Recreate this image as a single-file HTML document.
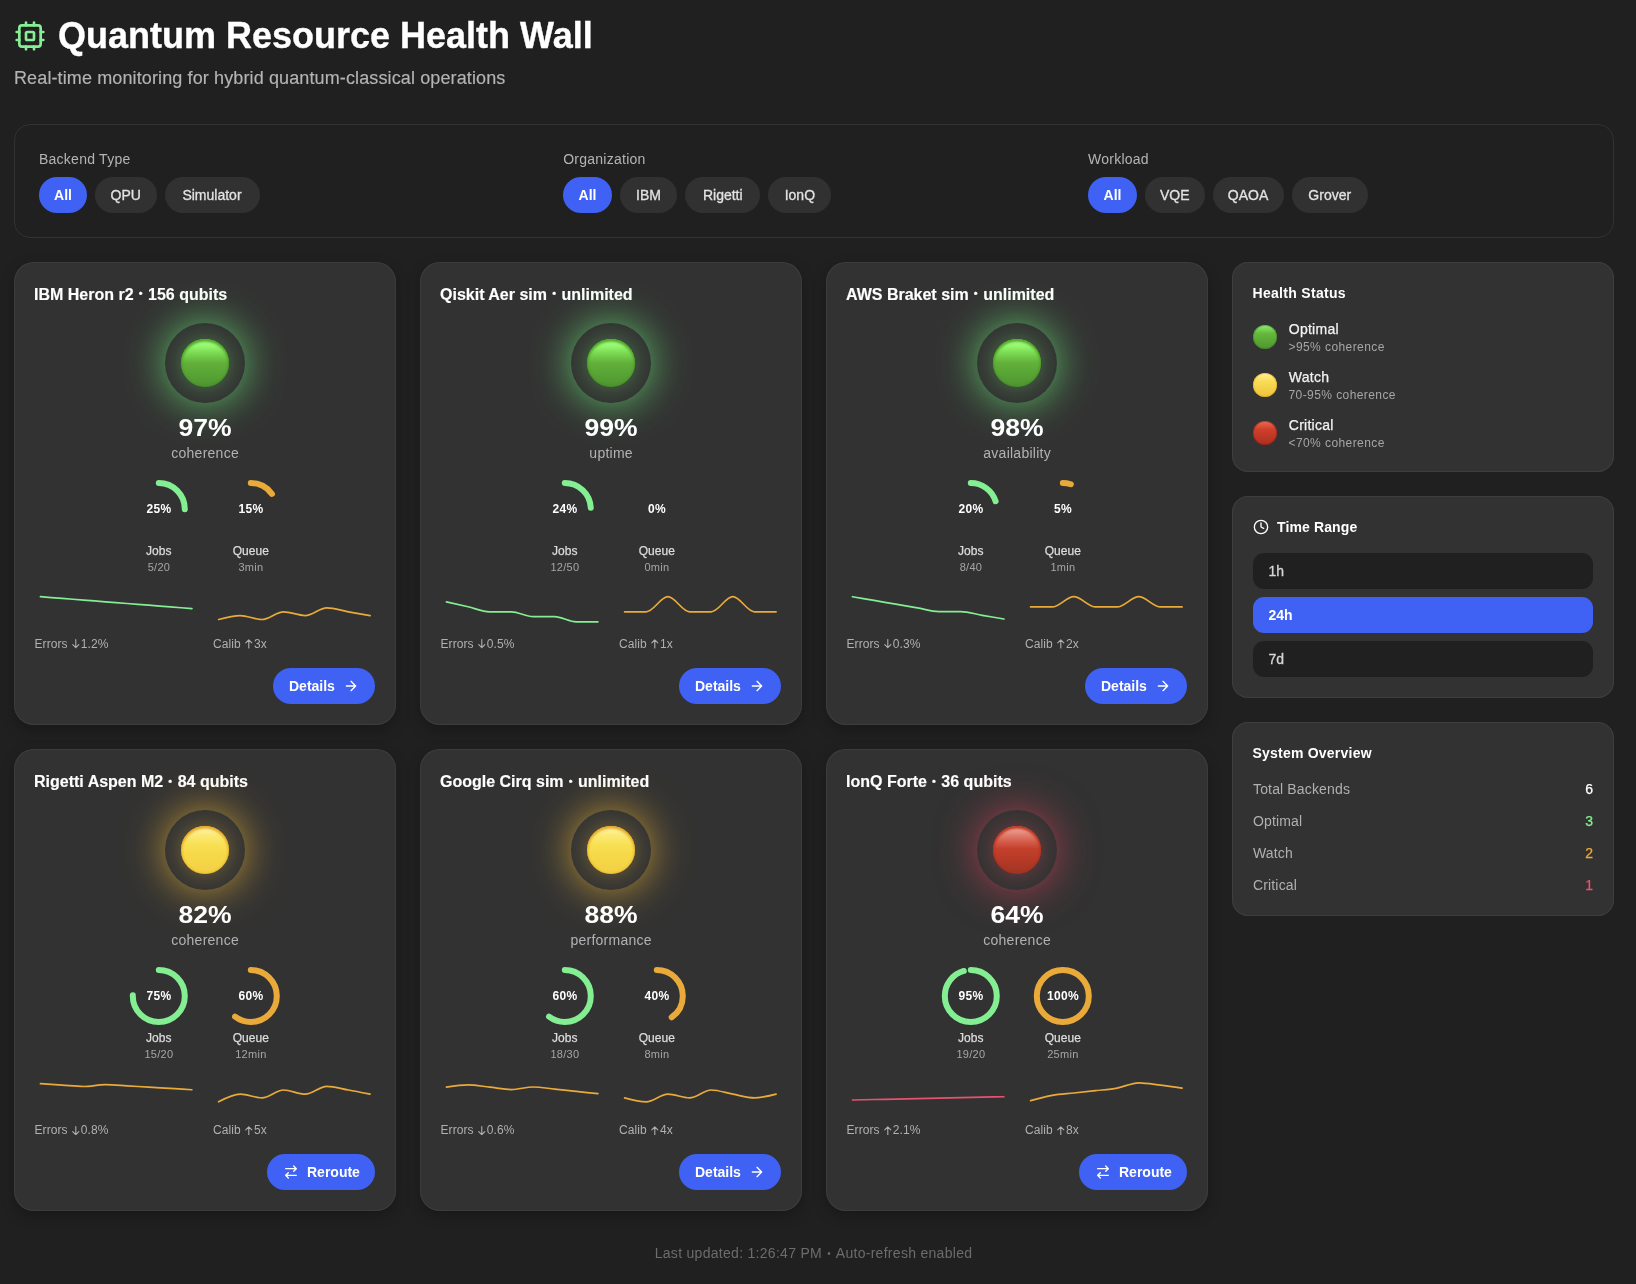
<!DOCTYPE html>
<html lang="en">
<head>
<meta charset="utf-8">
<title>Quantum Resource Health Wall</title>
<style>
*{box-sizing:border-box;margin:0;padding:0}
html,body{width:1636px;height:1284px;overflow:hidden}
h1,.sub,.filters,.card,.side,.foot{will-change:transform}
body{background:#202020;color:#fff;font-family:"Liberation Sans",sans-serif;position:relative}
.hdr-icon{position:absolute;left:14px;top:19.5px;width:32px;height:32px}
h1{position:absolute;left:58px;top:15.8px;font-size:36px;line-height:40px;font-weight:700;white-space:nowrap;-webkit-text-stroke:.35px #fff}
.sub{position:absolute;left:14px;top:66px;font-size:18px;line-height:24px;color:#b4b4b4;white-space:nowrap;letter-spacing:.12px;-webkit-text-stroke:.15px #b4b4b4}
.filters{position:absolute;left:14px;top:124px;width:1600px;height:114px;border:1px solid #323232;border-radius:16px;background:#202020}
.fg{position:absolute;top:24px}
.fg .lbl{font-size:14px;line-height:20px;color:#b4b4b4;margin-bottom:8px;white-space:nowrap;letter-spacing:.25px}
.pills{display:flex;gap:8px}
.pill{height:36px;border-radius:18px;background:#313131;color:#e2e2e2;font-size:14px;line-height:36px;text-align:center;white-space:nowrap;-webkit-text-stroke:.3px #e2e2e2}
.pill.on{background:#3f62f4;color:#fff;font-weight:700;-webkit-text-stroke:0}
.card{position:absolute;width:382px;height:463px;background:#323232;border-radius:20px;box-shadow:inset 0 0 0 1px #3c3c3c,0 5px 14px rgba(0,0,0,.26)}
.card h3{position:absolute;left:20px;top:22.5px;font-size:16px;line-height:20px;font-weight:700;white-space:nowrap;-webkit-text-stroke:.15px #fff}
.bl{display:inline-block;width:5.6px;text-align:center;position:relative}
.bl i{font-style:normal;font-size:11px;position:relative;top:-2.3px;left:-.2px}
.led{position:absolute;left:151px;top:60.7px;width:80px;height:80px;border-radius:50%}
.led i{position:absolute;left:16px;top:16px;width:48px;height:48px;border-radius:50%}
.led-g{background:#333433;box-shadow:0 0 40px rgba(105,215,115,.86)}
.led-g i{background:linear-gradient(180deg,#a6fd8a 5%,#92f66c 16%,#79d850 30%,#62b03a 50%,#4e9530 100%);box-shadow:0 0 22px rgba(110,220,110,.42),inset 0 2.5px 2.5px rgba(80,165,35,.95),inset 0 0 3px rgba(60,135,30,.85)}
.led-y{background:#343433;box-shadow:0 0 40px rgba(240,185,60,.74)}
.led-y i{background:linear-gradient(180deg,#fdf3a6 5%,#fbea78 18%,#f8df52 40%,#f6d949 60%,#f2d044 100%);box-shadow:0 0 22px rgba(240,190,60,.38),inset 0 2.5px 2.5px rgba(232,165,30,.95),inset 0 0 3px rgba(225,160,30,.9)}
.led-r{background:#343333;box-shadow:0 0 40px rgba(235,75,100,.62)}
.led-r i{background:linear-gradient(180deg,#efa89e 5%,#e27f70 18%,#d25a48 34%,#c5402b 47%,#b53a27 70%,#a03524 100%);box-shadow:0 0 22px rgba(235,80,100,.36),inset 0 2.5px 2.5px rgba(190,50,25,.95),inset 0 0 3px rgba(170,45,25,.9)}

.big{position:absolute;left:0;width:382px;top:151px;text-align:center;font-size:24px;line-height:30px;font-weight:700;transform:scaleX(1.105);transform-origin:50% 50%}
.met{position:absolute;left:0;width:382px;top:181.4px;text-align:center;font-size:14px;line-height:20px;color:#b2b2b2;letter-spacing:.25px;text-indent:.25px}
.cv{position:absolute;left:0;top:0}
.gp{position:absolute;width:100px;top:240px;text-align:center;font-size:12px;line-height:14px;font-weight:700;color:#fff;letter-spacing:.3px;text-indent:.3px}
.gl{position:absolute;width:100px;text-align:center;top:281.2px;font-size:12px;line-height:16px;color:#dcdcdc;-webkit-text-stroke:.25px #dcdcdc}
.gs{position:absolute;width:100px;text-align:center;top:297.8px;font-size:11px;line-height:14px;color:#a6a6a6;letter-spacing:.3px;text-indent:.3px}
.ft{position:absolute;top:373.5px;font-size:12px;line-height:16px;color:#b0b0b0;white-space:nowrap;letter-spacing:.08px}
.ar{display:inline-block;width:7.6px;height:9.5px;margin:0 1px 0 1.2px;vertical-align:-1px}
.btn{position:absolute;top:406px;height:36px;border-radius:18px;background:#3f62f4;color:#fff;font-size:14px;font-weight:700;line-height:36px;white-space:nowrap;display:flex;align-items:center;padding:0 16px;gap:8px}
.btn .ic{width:16px;height:16px;flex:none}
.btn span{display:block;flex:1}
.side{position:absolute;left:1232px;width:382px;background:#323232;border-radius:16px;box-shadow:inset 0 0 0 1px #3e3e3e}
.side h4{position:absolute;font-size:14px;line-height:20px;font-weight:700;white-space:nowrap;letter-spacing:.3px}
.dot{position:absolute;left:21px;width:24px;height:24px;border-radius:50%}
.dot.g{background:linear-gradient(180deg,#8df070 0%,#66b83c 35%,#4f9530 100%);box-shadow:inset 0 0 0 1px rgba(60,120,35,.5)}
.dot.y{background:linear-gradient(180deg,#fdf09a 0%,#f9dc55 35%,#eec23c 100%);box-shadow:inset 0 0 0 1px rgba(220,160,30,.5)}
.dot.r{background:linear-gradient(180deg,#ee6c55 0%,#cf402a 35%,#ad2e1e 100%);box-shadow:inset 0 0 0 1px rgba(140,30,20,.5)}
.st{position:absolute;left:56.8px;font-size:14px;line-height:20px;color:#f2f2f2;white-space:nowrap;-webkit-text-stroke:.25px #f2f2f2;letter-spacing:.25px}
.ss{position:absolute;left:56.5px;font-size:12px;line-height:14px;color:#a6a6a6;white-space:nowrap;letter-spacing:.42px}
.tr{position:absolute;left:21px;width:340px;height:36px;border-radius:11px;background:#202020;color:#d6d6d6;font-size:14px;line-height:36px;padding-left:15.5px;-webkit-text-stroke:.3px #d6d6d6}
.tr.on{background:#3f62f4;color:#fff;font-weight:700;-webkit-text-stroke:0}
.ov{position:absolute;left:21px;font-size:14px;line-height:20px;color:#b0b0b0;white-space:nowrap;letter-spacing:.15px}
.on_{position:absolute;right:21px;font-size:14px;line-height:20px;text-align:right;-webkit-text-stroke:.25px currentColor}
.foot{position:absolute;left:0;width:1627px;top:1245px;text-align:center;font-size:14px;line-height:16px;color:#6c6c6c;white-space:nowrap;letter-spacing:.29px}
.foot i{font-style:normal;font-size:10px;position:relative;top:-1.2px;margin:0 1.2px}
</style>
</head>
<body>
<svg class="hdr-icon" viewBox="0 0 24 24" fill="none" stroke="#86ee94" stroke-width="2" stroke-linecap="round" stroke-linejoin="round"><rect x="4" y="4" width="16" height="16" rx="2"/><rect x="9" y="9" width="6" height="6" rx="1"/><path d="M15 2v2M15 20v2M2 15h2M2 9h2M20 15h2M20 9h2M9 2v2M9 20v2"/></svg>
<h1>Quantum Resource Health Wall</h1>
<div class="sub">Real-time monitoring for hybrid quantum-classical operations</div>
<div class="filters">
<div class="fg" style="left:24px"><div class="lbl">Backend Type</div><div class="pills"><div class="pill on" style="width:48px">All</div><div class="pill" style="width:61.5px">QPU</div><div class="pill" style="width:95px">Simulator</div></div></div>
<div class="fg" style="left:548.2px"><div class="lbl">Organization</div><div class="pills"><div class="pill on" style="width:48.7px">All</div><div class="pill" style="width:57.3px">IBM</div><div class="pill" style="width:75.2px">Rigetti</div><div class="pill" style="width:63px">IonQ</div></div></div>
<div class="fg" style="left:1073px"><div class="lbl">Workload</div><div class="pills"><div class="pill on" style="width:49px">All</div><div class="pill" style="width:59.5px">VQE</div><div class="pill" style="width:71px">QAOA</div><div class="pill" style="width:76.5px">Grover</div></div></div>
</div>
<div class="card" style="left:14px;top:262px">
<h3>IBM Heron r2 <span class="bl"><i>•</i></span> 156 qubits</h3>
<div class="led led-g"><i></i></div>
<div class="big">97%</div>
<div class="met">coherence</div>
<svg class="cv" width="382" height="463" viewBox="0 0 382 463">
<circle cx="144.8" cy="247.0" r="26" fill="none" stroke="#84ee93" stroke-width="6" stroke-linecap="round" stroke-dasharray="40.84 163.36" transform="rotate(-90 144.8 247.0)"/>
<circle cx="236.8" cy="247.0" r="26" fill="none" stroke="#eaaa3a" stroke-width="6" stroke-linecap="round" stroke-dasharray="24.50 163.36" transform="rotate(-90 236.8 247.0)"/>
<path d="M26.44,334.72C33.65,335.29 40.87,335.85 48.08,336.42C55.29,336.98 62.51,337.55 69.72,338.11C76.93,338.67 84.15,339.24 91.36,339.80C98.57,340.37 105.79,340.93 113.00,341.49C120.21,342.06 127.43,342.62 134.64,343.19C141.85,343.75 149.07,344.31 156.28,344.88C163.49,345.44 170.71,346.01 177.92,346.57" fill="none" stroke="#84ee93" stroke-width="1.7" stroke-linecap="round" stroke-linejoin="round"/>
<path d="M204.60,357.49C211.81,355.51 219.03,353.54 226.24,353.54C233.45,353.54 240.67,357.49 247.88,357.49C255.09,357.49 262.31,349.82 269.52,349.82C276.73,349.82 283.95,353.54 291.16,353.54C298.37,353.54 305.59,345.87 312.80,345.87C320.01,345.87 327.23,348.55 334.44,349.82C341.65,351.10 348.87,352.32 356.08,353.54" fill="none" stroke="#eaaa3a" stroke-width="1.7" stroke-linecap="round" stroke-linejoin="round"/>
</svg>
<b class="gp" style="left:94.8px">25%</b><b class="gp" style="left:186.8px">15%</b>
<div class="gl" style="left:94.8px">Jobs</div><div class="gl" style="left:186.8px">Queue</div>
<div class="gs" style="left:94.8px">5/20</div><div class="gs" style="left:186.8px">3min</div>
<div class="ft" style="left:20.5px;margin-top:0.0px">Errors <svg class="ar" viewBox="0 0 8 10"><path d="M4 .6v8.6M.8 6l3.2 3.2L7.2 6" fill="none" stroke="#b0b0b0" stroke-width="1.15" stroke-linecap="round" stroke-linejoin="round"/></svg>1.2%</div><div class="ft" style="left:199px;margin-top:0.0px">Calib <svg class="ar" viewBox="0 0 8 10"><path d="M4 9.4V.8M.8 4l3.2-3.2L7.2 4" fill="none" stroke="#b0b0b0" stroke-width="1.15" stroke-linecap="round" stroke-linejoin="round"/></svg>3x</div>
<div class="btn" style="left:259px;width:102px;margin-top:0.0px"><span>Details</span><svg class="ic" viewBox="0 0 24 24" fill="none" stroke="#fff" stroke-width="2" stroke-linecap="round" stroke-linejoin="round"><path d="M5 12h14M12 5l7 7-7 7"/></svg></div>
</div>
<div class="card" style="left:420px;top:262px">
<h3>Qiskit Aer sim <span class="bl"><i>•</i></span> unlimited</h3>
<div class="led led-g"><i></i></div>
<div class="big">99%</div>
<div class="met">uptime</div>
<svg class="cv" width="382" height="463" viewBox="0 0 382 463">
<circle cx="144.8" cy="247.0" r="26" fill="none" stroke="#84ee93" stroke-width="6" stroke-linecap="round" stroke-dasharray="39.21 163.36" transform="rotate(-90 144.8 247.0)"/>

<path d="M26.44,339.84C33.65,341.44 40.87,343.05 48.08,344.71C55.29,346.38 62.51,349.82 69.72,349.82C76.93,349.82 84.15,349.82 91.36,349.82C98.57,349.82 105.79,354.70 113.00,354.70C120.21,354.70 127.43,354.70 134.64,354.70C141.85,354.70 149.07,359.81 156.28,359.81C163.49,359.81 170.71,359.81 177.92,359.81" fill="none" stroke="#84ee93" stroke-width="1.7" stroke-linecap="round" stroke-linejoin="round"/>
<path d="M204.60,349.82C211.81,349.82 219.03,349.82 226.24,349.82C233.45,349.82 240.67,334.72 247.88,334.72C255.09,334.72 262.31,349.82 269.52,349.82C276.73,349.82 283.95,349.82 291.16,349.82C298.37,349.82 305.59,334.72 312.80,334.72C320.01,334.72 327.23,349.82 334.44,349.82C341.65,349.82 348.87,349.82 356.08,349.82" fill="none" stroke="#eaaa3a" stroke-width="1.7" stroke-linecap="round" stroke-linejoin="round"/>
</svg>
<b class="gp" style="left:94.8px">24%</b><b class="gp" style="left:186.8px">0%</b>
<div class="gl" style="left:94.8px">Jobs</div><div class="gl" style="left:186.8px">Queue</div>
<div class="gs" style="left:94.8px">12/50</div><div class="gs" style="left:186.8px">0min</div>
<div class="ft" style="left:20.5px;margin-top:0.0px">Errors <svg class="ar" viewBox="0 0 8 10"><path d="M4 .6v8.6M.8 6l3.2 3.2L7.2 6" fill="none" stroke="#b0b0b0" stroke-width="1.15" stroke-linecap="round" stroke-linejoin="round"/></svg>0.5%</div><div class="ft" style="left:199px;margin-top:0.0px">Calib <svg class="ar" viewBox="0 0 8 10"><path d="M4 9.4V.8M.8 4l3.2-3.2L7.2 4" fill="none" stroke="#b0b0b0" stroke-width="1.15" stroke-linecap="round" stroke-linejoin="round"/></svg>1x</div>
<div class="btn" style="left:259px;width:102px;margin-top:0.0px"><span>Details</span><svg class="ic" viewBox="0 0 24 24" fill="none" stroke="#fff" stroke-width="2" stroke-linecap="round" stroke-linejoin="round"><path d="M5 12h14M12 5l7 7-7 7"/></svg></div>
</div>
<div class="card" style="left:826px;top:262px">
<h3>AWS Braket sim <span class="bl"><i>•</i></span> unlimited</h3>
<div class="led led-g"><i></i></div>
<div class="big">98%</div>
<div class="met">availability</div>
<svg class="cv" width="382" height="463" viewBox="0 0 382 463">
<circle cx="144.8" cy="247.0" r="26" fill="none" stroke="#84ee93" stroke-width="6" stroke-linecap="round" stroke-dasharray="32.67 163.36" transform="rotate(-90 144.8 247.0)"/>
<circle cx="236.8" cy="247.0" r="26" fill="none" stroke="#eaaa3a" stroke-width="6" stroke-linecap="round" stroke-dasharray="8.17 163.36" transform="rotate(-90 236.8 247.0)"/>
<path d="M26.44,334.72C33.65,335.96 40.87,337.20 48.08,338.44C55.29,339.68 62.51,340.92 69.72,342.16C76.93,343.40 84.15,344.64 91.36,345.87C98.57,347.11 105.79,349.59 113.00,349.59C120.21,349.59 127.43,349.59 134.64,349.59C141.85,349.59 149.07,352.07 156.28,353.31C163.49,354.55 170.71,355.79 177.92,357.02" fill="none" stroke="#84ee93" stroke-width="1.7" stroke-linecap="round" stroke-linejoin="round"/>
<path d="M204.60,344.95C211.81,344.95 219.03,344.95 226.24,344.95C233.45,344.95 240.67,334.72 247.88,334.72C255.09,334.72 262.31,344.95 269.52,344.95C276.73,344.95 283.95,344.95 291.16,344.95C298.37,344.95 305.59,334.72 312.80,334.72C320.01,334.72 327.23,344.95 334.44,344.95C341.65,344.95 348.87,344.95 356.08,344.95" fill="none" stroke="#eaaa3a" stroke-width="1.7" stroke-linecap="round" stroke-linejoin="round"/>
</svg>
<b class="gp" style="left:94.8px">20%</b><b class="gp" style="left:186.8px">5%</b>
<div class="gl" style="left:94.8px">Jobs</div><div class="gl" style="left:186.8px">Queue</div>
<div class="gs" style="left:94.8px">8/40</div><div class="gs" style="left:186.8px">1min</div>
<div class="ft" style="left:20.5px;margin-top:0.0px">Errors <svg class="ar" viewBox="0 0 8 10"><path d="M4 .6v8.6M.8 6l3.2 3.2L7.2 6" fill="none" stroke="#b0b0b0" stroke-width="1.15" stroke-linecap="round" stroke-linejoin="round"/></svg>0.3%</div><div class="ft" style="left:199px;margin-top:0.0px">Calib <svg class="ar" viewBox="0 0 8 10"><path d="M4 9.4V.8M.8 4l3.2-3.2L7.2 4" fill="none" stroke="#b0b0b0" stroke-width="1.15" stroke-linecap="round" stroke-linejoin="round"/></svg>2x</div>
<div class="btn" style="left:259px;width:102px;margin-top:0.0px"><span>Details</span><svg class="ic" viewBox="0 0 24 24" fill="none" stroke="#fff" stroke-width="2" stroke-linecap="round" stroke-linejoin="round"><path d="M5 12h14M12 5l7 7-7 7"/></svg></div>
</div>
<div class="card" style="left:14px;top:749px;height:462px">
<h3 style="margin-top:.8px">Rigetti Aspen M2 <span class="bl"><i>•</i></span> 84 qubits</h3>
<div class="led led-y"><i></i></div>
<div class="big">82%</div>
<div class="met">coherence</div>
<svg class="cv" width="382" height="463" viewBox="0 0 382 463">
<circle cx="144.8" cy="247.0" r="26" fill="none" stroke="#84ee93" stroke-width="6" stroke-linecap="round" stroke-dasharray="122.52 163.36" transform="rotate(-90 144.8 247.0)"/>
<circle cx="236.8" cy="247.0" r="26" fill="none" stroke="#eaaa3a" stroke-width="6" stroke-linecap="round" stroke-dasharray="98.02 163.36" transform="rotate(-90 236.8 247.0)"/>
<path d="M26.44,334.72C33.65,335.19 40.87,335.65 48.08,336.12C55.29,336.58 62.51,337.51 69.72,337.51C76.93,337.51 84.15,335.65 91.36,335.65C98.57,335.65 105.79,336.39 113.00,336.82C120.21,337.24 127.43,337.78 134.64,338.21C141.85,338.63 149.07,338.94 156.28,339.37C163.49,339.80 170.71,340.28 177.92,340.76" fill="none" stroke="#eaaa3a" stroke-width="1.7" stroke-linecap="round" stroke-linejoin="round"/>
<path d="M204.60,352.84C211.81,349.01 219.03,345.18 226.24,345.18C233.45,345.18 240.67,348.89 247.88,348.89C255.09,348.89 262.31,341.00 269.52,341.00C276.73,341.00 283.95,345.18 291.16,345.18C298.37,345.18 305.59,337.28 312.80,337.28C320.01,337.28 327.23,339.68 334.44,341.00C341.65,342.31 348.87,343.75 356.08,345.18" fill="none" stroke="#eaaa3a" stroke-width="1.7" stroke-linecap="round" stroke-linejoin="round"/>
</svg>
<b class="gp" style="left:94.8px">75%</b><b class="gp" style="left:186.8px">60%</b>
<div class="gl" style="left:94.8px">Jobs</div><div class="gl" style="left:186.8px">Queue</div>
<div class="gs" style="left:94.8px;margin-top:.2px">15/20</div><div class="gs" style="left:186.8px;margin-top:.2px">12min</div>
<div class="ft" style="left:20.5px;margin-top:-0.4px">Errors <svg class="ar" viewBox="0 0 8 10"><path d="M4 .6v8.6M.8 6l3.2 3.2L7.2 6" fill="none" stroke="#b0b0b0" stroke-width="1.15" stroke-linecap="round" stroke-linejoin="round"/></svg>0.8%</div><div class="ft" style="left:199px;margin-top:-0.4px">Calib <svg class="ar" viewBox="0 0 8 10"><path d="M4 9.4V.8M.8 4l3.2-3.2L7.2 4" fill="none" stroke="#b0b0b0" stroke-width="1.15" stroke-linecap="round" stroke-linejoin="round"/></svg>5x</div>
<div class="btn" style="left:253px;width:108px;margin-top:-0.7px"><svg class="ic" viewBox="0 0 24 24" fill="none" stroke="#fff" stroke-width="2" stroke-linecap="round" stroke-linejoin="round"><path d="m16 3 4 4-4 4M20 7H4M8 21l-4-4 4-4M4 17h16"/></svg><span>Reroute</span></div>
</div>
<div class="card" style="left:420px;top:749px;height:462px">
<h3 style="margin-top:.8px">Google Cirq sim <span class="bl"><i>•</i></span> unlimited</h3>
<div class="led led-y"><i></i></div>
<div class="big">88%</div>
<div class="met">performance</div>
<svg class="cv" width="382" height="463" viewBox="0 0 382 463">
<circle cx="144.8" cy="247.0" r="26" fill="none" stroke="#84ee93" stroke-width="6" stroke-linecap="round" stroke-dasharray="98.02 163.36" transform="rotate(-90 144.8 247.0)"/>
<circle cx="236.8" cy="247.0" r="26" fill="none" stroke="#eaaa3a" stroke-width="6" stroke-linecap="round" stroke-dasharray="65.35 163.36" transform="rotate(-90 236.8 247.0)"/>
<path d="M26.44,338.21C33.65,337.05 40.87,335.89 48.08,335.89C55.29,335.89 62.51,337.43 69.72,338.21C76.93,338.98 84.15,340.53 91.36,340.53C98.57,340.53 105.79,337.98 113.00,337.98C120.21,337.98 127.43,339.33 134.64,340.07C141.85,340.80 149.07,341.62 156.28,342.39C163.49,343.16 170.71,343.94 177.92,344.71" fill="none" stroke="#eaaa3a" stroke-width="1.7" stroke-linecap="round" stroke-linejoin="round"/>
<path d="M204.60,348.89C211.81,350.87 219.03,352.84 226.24,352.84C233.45,352.84 240.67,345.18 247.88,345.18C255.09,345.18 262.31,348.89 269.52,348.89C276.73,348.89 283.95,341.00 291.16,341.00C298.37,341.00 305.59,343.86 312.80,345.18C320.01,346.49 327.23,348.89 334.44,348.89C341.65,348.89 348.87,347.04 356.08,345.18" fill="none" stroke="#eaaa3a" stroke-width="1.7" stroke-linecap="round" stroke-linejoin="round"/>
</svg>
<b class="gp" style="left:94.8px">60%</b><b class="gp" style="left:186.8px">40%</b>
<div class="gl" style="left:94.8px">Jobs</div><div class="gl" style="left:186.8px">Queue</div>
<div class="gs" style="left:94.8px;margin-top:.2px">18/30</div><div class="gs" style="left:186.8px;margin-top:.2px">8min</div>
<div class="ft" style="left:20.5px;margin-top:-0.4px">Errors <svg class="ar" viewBox="0 0 8 10"><path d="M4 .6v8.6M.8 6l3.2 3.2L7.2 6" fill="none" stroke="#b0b0b0" stroke-width="1.15" stroke-linecap="round" stroke-linejoin="round"/></svg>0.6%</div><div class="ft" style="left:199px;margin-top:-0.4px">Calib <svg class="ar" viewBox="0 0 8 10"><path d="M4 9.4V.8M.8 4l3.2-3.2L7.2 4" fill="none" stroke="#b0b0b0" stroke-width="1.15" stroke-linecap="round" stroke-linejoin="round"/></svg>4x</div>
<div class="btn" style="left:259px;width:102px;margin-top:-0.7px"><span>Details</span><svg class="ic" viewBox="0 0 24 24" fill="none" stroke="#fff" stroke-width="2" stroke-linecap="round" stroke-linejoin="round"><path d="M5 12h14M12 5l7 7-7 7"/></svg></div>
</div>
<div class="card" style="left:826px;top:749px;height:462px">
<h3 style="margin-top:.8px">IonQ Forte <span class="bl"><i>•</i></span> 36 qubits</h3>
<div class="led led-r"><i></i></div>
<div class="big">64%</div>
<div class="met">coherence</div>
<svg class="cv" width="382" height="463" viewBox="0 0 382 463">
<circle cx="144.8" cy="247.0" r="26" fill="none" stroke="#84ee93" stroke-width="6" stroke-linecap="round" stroke-dasharray="155.19 163.36" transform="rotate(-90 144.8 247.0)"/>
<circle cx="236.8" cy="247.0" r="26" fill="none" stroke="#eaaa3a" stroke-width="6"/>
<path d="M26.44,350.98C33.65,350.83 40.87,350.68 48.08,350.52C55.29,350.37 62.51,350.21 69.72,350.06C76.93,349.90 84.15,349.75 91.36,349.59C98.57,349.44 105.79,349.28 113.00,349.13C120.21,348.97 127.43,348.82 134.64,348.66C141.85,348.51 149.07,348.35 156.28,348.20C163.49,348.04 170.71,347.89 177.92,347.73" fill="none" stroke="#e5536f" stroke-width="1.7" stroke-linecap="round" stroke-linejoin="round"/>
<path d="M204.60,351.68C211.81,349.65 219.03,347.62 226.24,346.34C233.45,345.06 240.67,344.79 247.88,344.02C255.09,343.24 262.31,342.51 269.52,341.69C276.73,340.88 283.95,340.45 291.16,339.14C298.37,337.82 305.59,333.80 312.80,333.80C320.01,333.80 327.23,335.23 334.44,336.12C341.65,337.01 348.87,338.07 356.08,339.14" fill="none" stroke="#eaaa3a" stroke-width="1.7" stroke-linecap="round" stroke-linejoin="round"/>
</svg>
<b class="gp" style="left:94.8px">95%</b><b class="gp" style="left:186.8px">100%</b>
<div class="gl" style="left:94.8px">Jobs</div><div class="gl" style="left:186.8px">Queue</div>
<div class="gs" style="left:94.8px;margin-top:.2px">19/20</div><div class="gs" style="left:186.8px;margin-top:.2px">25min</div>
<div class="ft" style="left:20.5px;margin-top:-0.4px">Errors <svg class="ar" viewBox="0 0 8 10"><path d="M4 9.4V.8M.8 4l3.2-3.2L7.2 4" fill="none" stroke="#b0b0b0" stroke-width="1.15" stroke-linecap="round" stroke-linejoin="round"/></svg>2.1%</div><div class="ft" style="left:199px;margin-top:-0.4px">Calib <svg class="ar" viewBox="0 0 8 10"><path d="M4 9.4V.8M.8 4l3.2-3.2L7.2 4" fill="none" stroke="#b0b0b0" stroke-width="1.15" stroke-linecap="round" stroke-linejoin="round"/></svg>8x</div>
<div class="btn" style="left:253px;width:108px;margin-top:-0.7px"><svg class="ic" viewBox="0 0 24 24" fill="none" stroke="#fff" stroke-width="2" stroke-linecap="round" stroke-linejoin="round"><path d="m16 3 4 4-4 4M20 7H4M8 21l-4-4 4-4M4 17h16"/></svg><span>Reroute</span></div>
</div>
<div class="side" style="top:262px;height:210px">
<h4 style="left:20.5px;top:20.5px">Health Status</h4>
<div class="dot g" style="top:63px"></div><div class="st" style="top:57.4px">Optimal</div><div class="ss" style="top:77.6px">&gt;95% coherence</div>
<div class="dot y" style="top:111px"></div><div class="st" style="top:105.4px">Watch</div><div class="ss" style="top:125.6px">70-95% coherence</div>
<div class="dot r" style="top:159px"></div><div class="st" style="top:153.4px">Critical</div><div class="ss" style="top:173.6px">&lt;70% coherence</div>
</div>
<div class="side" style="top:496px;height:202px">
<svg style="position:absolute;left:21px;top:23px;width:16px;height:16px" viewBox="0 0 24 24" fill="none" stroke="#fff" stroke-width="2" stroke-linecap="round" stroke-linejoin="round"><circle cx="12" cy="12" r="10"/><path d="M12 6v6l4 2"/></svg>
<h4 style="left:45px;top:20.5px;letter-spacing:.12px">Time Range</h4>
<div class="tr" style="top:57px">1h</div>
<div class="tr on" style="top:101px">24h</div>
<div class="tr" style="top:145px">7d</div>
</div>
<div class="side" style="top:722px;height:194px">
<h4 style="left:20.5px;top:20.5px;letter-spacing:.22px">System Overview</h4>
<div class="ov" style="top:56.5px">Total Backends</div><div class="on_" style="top:56.5px;color:#fff">6</div>
<div class="ov" style="top:88.5px">Optimal</div><div class="on_" style="top:88.5px;color:#84ee93">3</div>
<div class="ov" style="top:120.5px">Watch</div><div class="on_" style="top:120.5px;color:#eaaa3a">2</div>
<div class="ov" style="top:152.5px">Critical</div><div class="on_" style="top:152.5px;color:#e5536f">1</div>
</div>
<div class="foot">Last updated: 1:26:47 PM <i>•</i> Auto-refresh enabled</div>
</body>
</html>
